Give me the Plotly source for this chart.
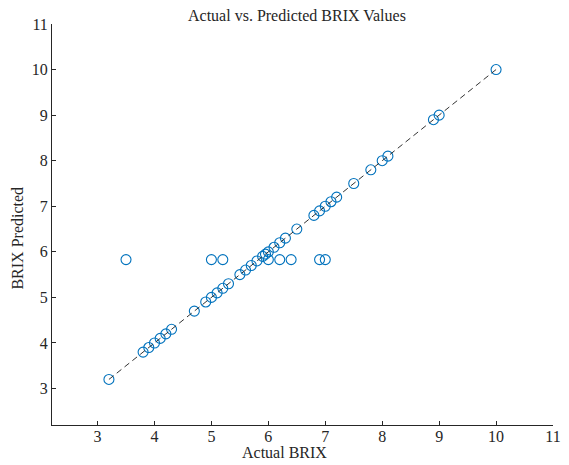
import plotly.graph_objects as go

# Data
actual_brix = [3.2, 3.8, 3.9, 4.0, 4.1, 4.2, 4.3, 4.7, 4.9, 5.0, 5.1, 5.2, 5.3,
               5.5, 5.6, 5.7, 5.8, 5.9, 5.95, 6.0, 6.1, 6.2, 6.3, 6.5, 6.8, 6.9,
               7.0, 7.1, 7.2, 7.5, 7.8, 8.0, 8.1, 8.9, 9.0, 10.0,
               3.5, 5.0, 5.2, 6.0, 6.2, 6.4, 6.9, 7.0]
predicted_brix = [3.2, 3.8, 3.9, 4.0, 4.1, 4.2, 4.3, 4.7, 4.9, 5.0, 5.1, 5.2, 5.3,
                  5.5, 5.6, 5.7, 5.8, 5.9, 5.95, 6.0, 6.1, 6.2, 6.3, 6.5, 6.8, 6.9,
                  7.0, 7.1, 7.2, 7.5, 7.8, 8.0, 8.1, 8.9, 9.0, 10.0,
                  5.83, 5.83, 5.83, 5.83, 5.83, 5.83, 5.83, 5.83]
ref_line_x = [3.2, 10.0]
ref_line_y = [3.2, 10.0]
tick_vals = [3, 4, 5, 6, 7, 8, 9, 10, 11]
axis_range = [2.2, 11]

FONT = "Liberation Serif, Times New Roman, serif"
TXT = "#262626"

fig = go.Figure()
fig.add_trace(go.Scatter(
    x=actual_brix, y=predicted_brix, mode="markers",
    marker=dict(symbol="circle-open", size=10, color="#0072BD",
                line=dict(width=1.1, color="#0072BD")),
    showlegend=False))
fig.add_trace(go.Scatter(
    x=ref_line_x, y=ref_line_y, mode="lines",
    line=dict(color="#333333", width=1, dash="6px,4px"),
    showlegend=False))

axis_common = dict(
    range=axis_range, tickvals=tick_vals, showgrid=False, zeroline=False,
    showline=True, linecolor=TXT, linewidth=1, ticks="inside", ticklen=4,
    tickcolor=TXT, tickwidth=1, mirror=False,
    tickfont=dict(family=FONT, size=16, color=TXT))
fig.update_xaxes(**axis_common, ticklabelstandoff=-3)
fig.update_yaxes(**axis_common)

fig.update_layout(
    width=569, height=465,
    margin=dict(l=52, r=8, t=24, b=40),
    plot_bgcolor="white", paper_bgcolor="white",
    font=dict(family=FONT, color=TXT),
    annotations=[
        dict(text="Actual vs. Predicted BRIX Values", xref="paper", yref="paper",
             x=0.49, y=1.022, xanchor="center", yanchor="middle",
             showarrow=False, font=dict(family=FONT, size=16, color=TXT)),
        dict(text="Actual BRIX", xref="paper", yref="paper",
             x=0.465, y=-0.0955, xanchor="center", yanchor="bottom",
             showarrow=False, font=dict(family=FONT, size=16, color=TXT)),
        dict(text="BRIX Predicted", xref="paper", yref="paper",
             x=-0.069, y=0.466, xanchor="center", yanchor="middle",
             textangle=-90, showarrow=False,
             font=dict(family=FONT, size=16, color=TXT)),
    ])

fig.write_html("out.html")
